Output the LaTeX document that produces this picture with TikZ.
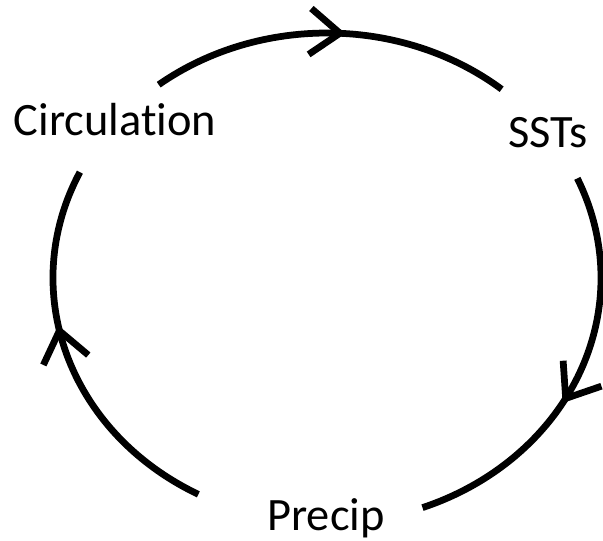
\documentclass[tikz,border=0pt]{standalone}
\usepackage{fontspec}
\setmainfont{Carlito}[Ligatures=NoCommon]
\usetikzlibrary{arrows.meta,decorations.markings,calc}
\tikzset{
  loopline/.style={line width=4.8pt},
  barb/.style={decoration={markings,
      mark=at position #1 with {\arrow{Straight Barb[length=0.75cm,width=1.15cm]}}},
    postaction={decorate}},
  lbl/.style={anchor=base,font=\fontsize{33}{40}\selectfont}
}
\begin{document}
\begin{tikzpicture}[x=0.025cm,y=-0.025cm]
  \useasboundingbox (0,0) rectangle (603,540);
  \coordinate (ctr) at (327,278);
  % the three labels
  \node[lbl] (circ) at (115,135) {Circulation};
  \node[lbl] (ssts) at (548,147) {SSTs};
  \node[lbl] (precip) at (326,530) {Precip};
  % ends of the arcs on the ellipse
  \coordinate (a1) at ($(ctr)+(-127.9:274 and 245)$);
  \coordinate (b1) at ($(ctr)+(-24:274 and 245)$);
  \coordinate (c1) at ($(ctr)+(118:274 and 245)$);
  % clockwise loop
  \draw[loopline,barb=0.54] (a1) arc[start angle=-127.9,end angle=-50.4,x radius=274,y radius=245];
  \draw[loopline,barb=0.57] (b1) arc[start angle=-24,end angle=69.6,x radius=274,y radius=245];
  \draw[loopline,barb=0.59] (c1) arc[start angle=118,end angle=205.6,x radius=274,y radius=245];
\end{tikzpicture}
\end{document}
